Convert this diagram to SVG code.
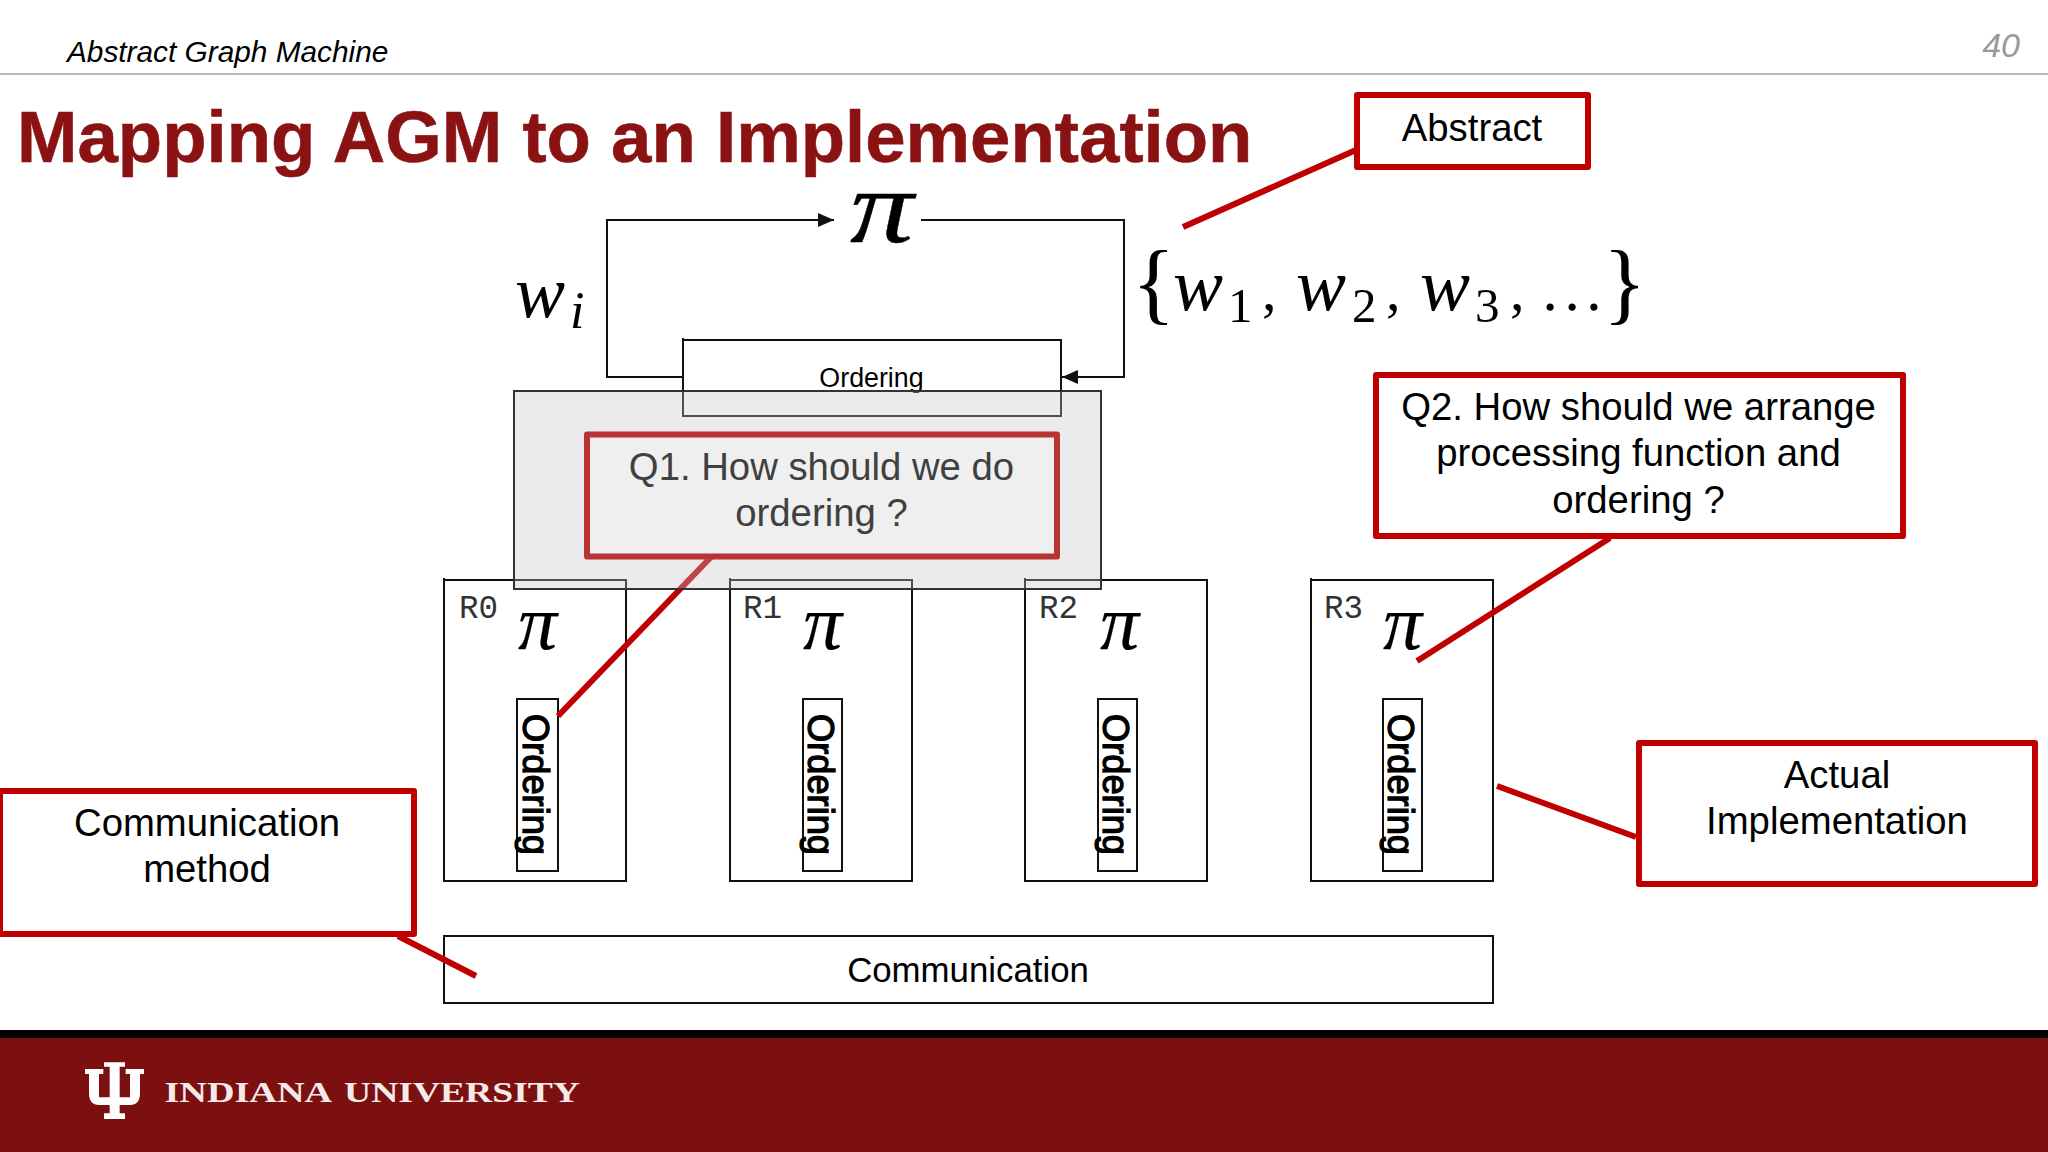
<svg xmlns="http://www.w3.org/2000/svg" width="2048" height="1152" viewBox="0 0 2048 1152">
<style>
text{font-family:"Liberation Sans",Arial,sans-serif;fill:#000}
.box{fill:none;stroke:#111;stroke-width:2}
.wbox{fill:#fff;stroke:#111;stroke-width:2}
.call{fill:#fff;stroke:#c00000;stroke-width:6;stroke-linejoin:round}
.red{stroke:#c00000;stroke-width:6;fill:none}
.loop{stroke:#111;stroke-width:2;fill:none}
.ct{font-size:38.300px;text-anchor:middle}
.rl{font-family:"Liberation Mono",monospace;font-size:32.500px;fill:#333}
.pi{font-family:"Liberation Serif",serif;font-style:italic;font-size:78px;stroke:#000;stroke-width:.2}
.vo{font-size:37px;stroke:#000;stroke-width:1.300}
.m{font-family:"Liberation Serif",serif;font-style:italic;font-size:75px}
.n{font-family:"Liberation Serif",serif;font-size:49px}
.b{font-family:"Liberation Serif",serif;font-size:90px;font-weight:400}
</style>
<defs>
<marker id="ah" markerUnits="userSpaceOnUse" markerWidth="16" markerHeight="14" refX="16" refY="7" orient="auto"><path d="M0 0L16 7L0 14Z" fill="#111"/></marker>
</defs>
<rect width="2048" height="1152" fill="#fff"/>
<g id="header">
<line x1="0" y1="74" x2="2048" y2="74" stroke="#bbb" stroke-width="2"/>
<text x="67" y="61.500" font-size="29.800" font-style="italic">Abstract Graph Machine</text>
<text x="2020" y="57" font-size="34" font-style="italic" text-anchor="end" style="fill:#999">40</text>
<text x="17" y="162" font-size="72.600" font-weight="700" style="fill:#8a1212;stroke:#8a1212;stroke-width:.6">Mapping AGM to an Implementation</text>
</g>
<g id="pi-top"><text class="pi" transform="translate(850 242) scale(1.220 1)" style="font-size:104px;stroke-width:.4">π</text></g>
<g id="wi"><text class="m" x="515" y="317">w</text><text class="m" x="570" y="328" style="font-size:52px">i</text></g>
<g id="weights">
<text class="b" x="1132" y="313">{</text>
<text class="m" x="1173" y="310">w</text><text class="n" x="1228" y="322">1</text><text class="n" x="1262" y="310" style="font-size:58px">,</text>
<text class="m" x="1296" y="310">w</text><text class="n" x="1352" y="322">2</text><text class="n" x="1386" y="310" style="font-size:58px">,</text>
<text class="m" x="1420" y="310">w</text><text class="n" x="1475" y="322">3</text><text class="n" x="1510" y="310" style="font-size:58px">,</text>
<text class="n" x="1544" y="310" textLength="56" style="stroke:#000;stroke-width:1.500">...</text>
<text class="b" x="1603" y="313">}</text>
</g>
<g id="ordering-top">
<path class="wbox" d="M683 338V416H1061V340H683"/>
<text x="871.500" y="387" font-size="26.800" text-anchor="middle">Ordering</text>
</g>
<g id="R0">
<path class="box" d="M444 578V881H626V580H444"/>
<text class="rl" x="459" y="618">R0</text>
<text class="pi" x="518" y="649">π</text>
<rect class="box" x="517" y="699" width="41" height="172"/>
<text class="vo" transform="translate(523 714) rotate(90)" textLength="141" lengthAdjust="spacingAndGlyphs">Ordering</text>
</g>
<g id="R1">
<path class="box" d="M730 578V881H912V580H730"/>
<text class="rl" x="743" y="618">R1</text>
<text class="pi" x="803" y="649">π</text>
<rect class="box" x="803" y="699" width="39" height="172"/>
<text class="vo" transform="translate(808 714) rotate(90)" textLength="141" lengthAdjust="spacingAndGlyphs">Ordering</text>
</g>
<g id="R2">
<path class="box" d="M1025 578V881H1207V580H1025"/>
<text class="rl" x="1039" y="618">R2</text>
<text class="pi" x="1100" y="649">π</text>
<rect class="box" x="1098" y="699" width="39" height="172"/>
<text class="vo" transform="translate(1103 714) rotate(90)" textLength="141" lengthAdjust="spacingAndGlyphs">Ordering</text>
</g>
<g id="R3">
<path class="box" d="M1311 578V881H1493V580H1311"/>
<text class="rl" x="1324" y="618">R3</text>
<text class="pi" x="1383" y="649">π</text>
<rect class="box" x="1383" y="699" width="39" height="172"/>
<text class="vo" transform="translate(1388 714) rotate(90)" textLength="141" lengthAdjust="spacingAndGlyphs">Ordering</text>
</g>
<g id="communication">
<rect class="box" x="444" y="936" width="1049" height="67"/>
<text x="968" y="982" font-size="34.800" text-anchor="middle">Communication</text>
</g>
<g id="connectors">
<path class="loop" marker-end="url(#ah)" d="M683 377H607V220H834"/>
<path class="loop" marker-end="url(#ah)" d="M921 220H1124V377H1062"/>
<line class="red" x1="712" y1="556" x2="558" y2="716"/>
<line class="red" x1="1356" y1="150" x2="1183" y2="227"/>
<line class="red" x1="1610" y1="538" x2="1417" y2="661"/>
<line class="red" x1="1636" y1="837" x2="1497" y2="786"/>
<line class="red" x1="398" y1="936" x2="476" y2="976"/>
</g>
<g id="highlight"><rect x="514" y="391" width="587" height="198" fill="#c5c5cb" fill-opacity=".345" stroke="#333" stroke-width="2"/></g>
<g id="q1">
<rect x="587" y="434.500" width="470" height="122" fill="#efefef" stroke="#b93333" stroke-width="6" stroke-linejoin="round"/>
<text class="ct" x="821.500" y="480" style="fill:#404040">Q1. How should we do</text>
<text class="ct" x="821.500" y="526" style="fill:#404040">ordering ?</text>
</g>
<g id="abstract">
<rect class="call" x="1357" y="95" width="231" height="72"/>
<text class="ct" x="1472" y="141">Abstract</text>
</g>
<g id="q2">
<rect class="call" x="1376" y="375" width="527" height="161"/>
<text class="ct" x="1638.500" y="420">Q2. How should we arrange</text>
<text class="ct" x="1638.500" y="466">processing function and</text>
<text class="ct" x="1638.500" y="513">ordering ?</text>
</g>
<g id="actual">
<rect class="call" x="1639" y="743" width="396" height="141"/>
<text class="ct" x="1837" y="787.500">Actual</text>
<text class="ct" x="1837" y="834">Implementation</text>
</g>
<g id="comm-method">
<rect class="call" x="0" y="791" width="414" height="143"/>
<text class="ct" x="207" y="836">Communication</text>
<text class="ct" x="207" y="882">method</text>
</g>
<g id="footer">
<rect y="1030" width="2048" height="8" fill="#000"/>
<rect y="1038" width="2048" height="114" fill="#7c1010"/>
<path fill="#fff" transform="translate(75 1050) scale(.3333)" d="M87 37H150V50H134V142H165V72H152V57H207V72H195V130Q195 165 165 165H134V190H150V207H87V190H104V165H72Q42 165 42 130V72H30V57H85V72H72V142H104V50H87Z"/>
<text y="1102" font-size="30" font-weight="700" style="font-family:'Liberation Serif',serif;fill:#f4eaea"><tspan x="164.500" textLength="175" lengthAdjust="spacingAndGlyphs">INDIANA </tspan><tspan x="344" textLength="236" lengthAdjust="spacingAndGlyphs">UNIVERSITY</tspan></text>
</g>
</svg>
